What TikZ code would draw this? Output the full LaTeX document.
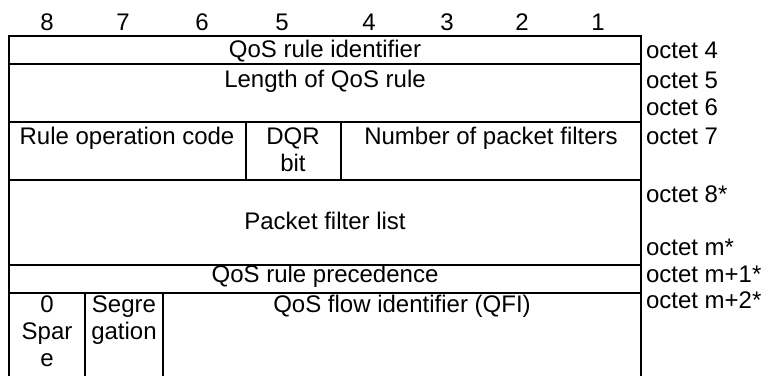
\documentclass[tikz,border=0pt]{standalone}
\usepackage{fontspec}
\setmainfont{Liberation Sans}
\usetikzlibrary{positioning}

\begin{document}
\begin{tikzpicture}[x=0.5pt,y=-0.5pt,line width=1pt,
  every node/.style={inner sep=0pt,font=\fontsize{12}{13.4}\selectfont},
  cell/.style={anchor=base,align=center},
  oct/.style={anchor=base west}]
  \useasboundingbox (0,0) rectangle (762,376);
  % bit numbers
  \foreach \b/\x in {8/47,7/123,6/202,5/282,4/369,3/447,2/522,1/598}
    \node[cell] (bit\b) at (\x,30) {\b};
  % frame and rows
  \draw (9,376) -- (9,36) -- (641,36) -- (641,376);
  \foreach \y in {64,122,180,265,293}
    \draw (9,\y) -- (641,\y);
  \draw (246,122) -- (246,180);
  \draw (341,122) -- (341,180);
  \draw (85,293) -- (85,376);
  \draw (163,293) -- (163,376);
  % fields (multi-line nodes sit on their last line)
  \node[cell] (qri) at (325,57) {QoS rule identifier};
  \node[cell] (len) at (325,87) {Length of QoS rule};
  \node[cell] (roc) at (127,144) {Rule operation code};
  \node[cell] (dqr) at (293,171) {DQR\\bit};
  \node[cell] (npf) at (491,144) {Number of packet filters};
  \node[cell] (pfl) at (325,229) {Packet filter list};
  \node[cell] (prec) at (325,282) {QoS rule precedence};
  \node[cell] (spare) at (47,366) {0\\Spar\\e};
  \node[cell] (segr) at (124,339) {Segre\\gation};
  \node[cell] (qfi) at (402,312) {QoS flow identifier (QFI)};
  % octets
  \node[oct] (o4) at (645,58) {octet 4};
  \node[oct] (o5) at (645,88) {octet 5};
  \node[oct] (o6) at (645,115) {octet 6};
  \node[oct] (o7) at (645,144) {octet 7};
  \node[oct] (o8) at (645,202) {octet 8*};
  \node[oct] (om) at (645,255) {octet m*};
  \node[oct] (om1) at (645,282) {octet m+1*};
  \node[oct] (om2) at (645,308) {octet m+2*};
\end{tikzpicture}
\end{document}
